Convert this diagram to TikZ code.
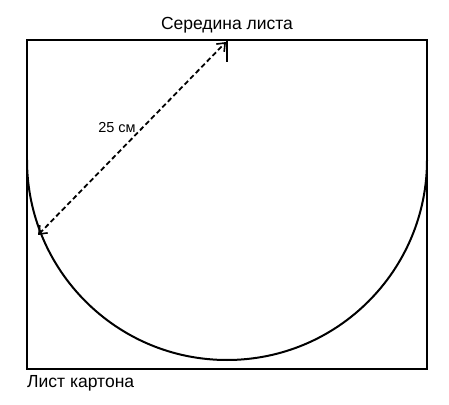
\documentclass[tikz,border=0pt]{standalone}
\usepackage{fontspec}
\setmainfont{Liberation Sans}
\usetikzlibrary{arrows.meta}
\begin{document}
\begin{tikzpicture}[x=1pt,y=1pt,
  sheet/.style={line width=2.6pt},
  cutline/.style={line width=2pt},
  barb/.tip={Straight Barb[length=7pt,width=11pt,line width=1.6pt]},
  dimline/.style={line width=1.8pt, dash pattern=on 5pt off 3pt, barb-barb},
  lbl/.style={inner sep=0pt, font=\fontsize{17.5pt}{20pt}\selectfont}]
\useasboundingbox (0,0) rectangle (449,404);
\fill[white] (0,0) rectangle (449,404);
% sheet
\draw[sheet] (27,364) rectangle (427,35);
% semicircle
\draw[cutline] (27,244) arc[start angle=180, end angle=360, radius=200];
% middle tick
\coordinate (mtop) at (227,363);
\coordinate (mbot) at (227,342);
\draw[line width=2pt] (mtop) -- (mbot);
% radius arrow
\coordinate (ra) at (226,362);
\coordinate (rb) at (38,169);
\draw[dimline] (rb) -- (ra);
% labels
\node[lbl] (mid) at (227,379) {Середина листа};
\node[inner sep=0pt, font=\fontsize{14.5pt}{16pt}\selectfont] (r) at (117,276) {25 см};
\node[lbl, anchor=west] (sheetlbl) at (27,21) {Лист картона};
\end{tikzpicture}
\end{document}
